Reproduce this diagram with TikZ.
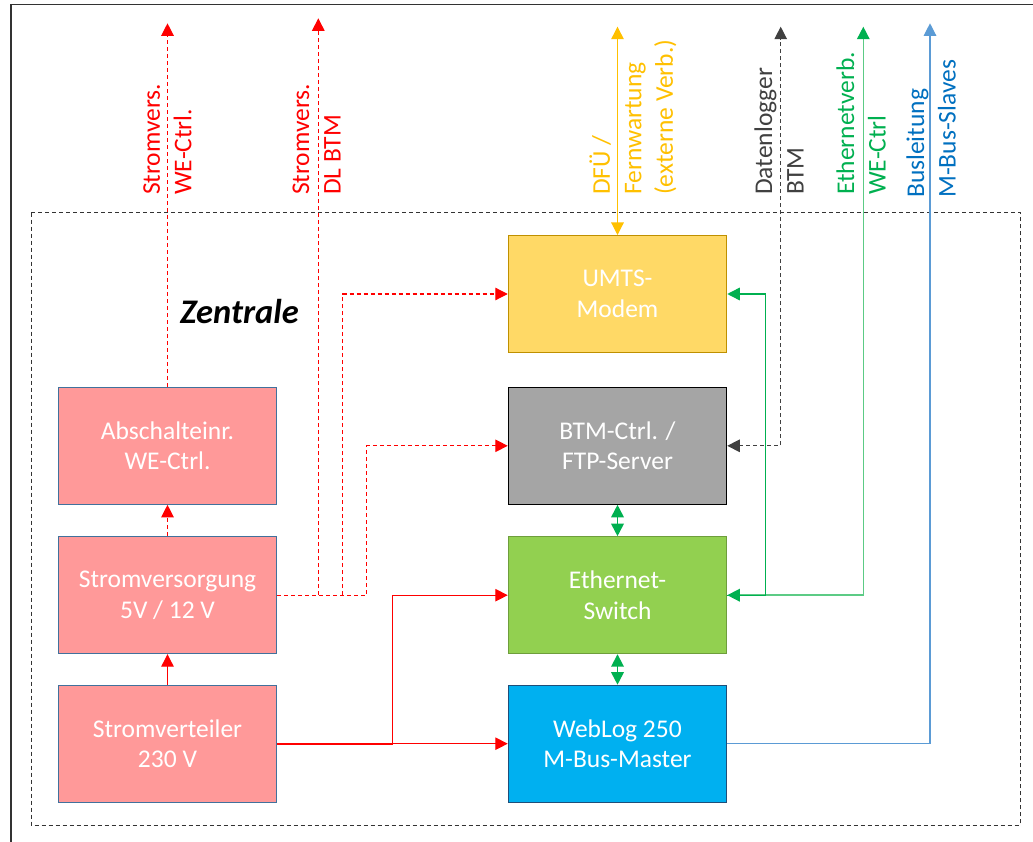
\documentclass[tikz,border=0pt]{standalone}
\usepackage{fontspec}
\setmainfont{Carlito}
\usetikzlibrary{arrows.meta}
\definecolor{cRed}{HTML}{FF0000}
\definecolor{cPink}{HTML}{FF9999}
\definecolor{cPinkB}{HTML}{41719C}
\definecolor{cGold}{HTML}{FFD966}
\definecolor{cGoldB}{HTML}{BF9000}
\definecolor{cGray}{HTML}{A5A5A5}
\definecolor{cLime}{HTML}{92D050}
\definecolor{cLimeB}{HTML}{6E9E3C}
\definecolor{cCyan}{HTML}{00B0F0}
\definecolor{cCyanB}{HTML}{1F4E79}
\definecolor{cOrange}{HTML}{FFC000}
\definecolor{cDark}{HTML}{404040}
\definecolor{cGreen}{HTML}{00B050}
\definecolor{cLGreen}{HTML}{5CCB85}
\definecolor{cBlueL}{HTML}{5B9BD5}
\definecolor{cBlueT}{HTML}{0070C0}
\tikzset{
  unit/.style={draw, line width=1pt, minimum width=218.5pt, minimum height=117pt,
    inner sep=0pt, align=center, text=white, font=\fontsize{25.5}{30.5}\selectfont},
  pinkbox/.style={unit, fill=cPink, draw=cPinkB},
  tip/.style={-{Triangle[length=12.5pt,width=12.5pt]}},
  bitip/.style={{Triangle[length=12.5pt,width=12.5pt]}-{Triangle[length=12.5pt,width=12.5pt]}},
  gtip/.style={{Triangle[length=12.5pt,width=12.5pt,color=cGreen,fill=cGreen]}-{Triangle[length=12.5pt,width=12.5pt,color=cGreen,fill=cGreen]}},
  dashline/.style={dash pattern=on 4pt off 3pt},
  vlabel/.style={rotate=90, anchor=west, align=left, inner sep=0pt,
    font=\fontsize{25.5}{31.5}\selectfont},
}
\begin{document}
\begin{tikzpicture}[x=1pt, y=-1pt, line join=miter]
\useasboundingbox[fill=white] (0,0) rectangle (1033,842);
% outer frame (partial)
\draw[line width=1.6pt, color=black!80] (11,842) -- (11,4.7) -- (1033,4.7);
% container
\draw[line width=1pt, color=black!80, dashline] (31,212.7) rectangle (1020,825);
\node[font=\fontsize{34.5}{40}\selectfont\bfseries\itshape, inner sep=0pt] (zen) at (239.5,312) {Zentrale};

% boxes
\node[pinkbox] (abs) at (167.5,445.8) {Abschalteinr.\\WE-Ctrl.};
\node[pinkbox] (sv) at (167.5,595.2) {Stromversorgung\\5V / 12 V};
\node[pinkbox] (vt) at (167.5,743.7) {Stromverteiler\\230 V};
\node[unit, fill=cGold, draw=cGoldB] (umts) at (617.5,294) {UMTS-\\Modem};
\node[unit, fill=cGray, draw=black] (btm) at (617.5,445.8) {BTM-Ctrl. /\\FTP-Server};
\node[unit, fill=cLime, draw=cLimeB] (eth) at (617.5,595.2) {Ethernet-\\Switch};
\node[unit, fill=cCyan, draw=cCyanB] (web) at (617.5,743.7) {WebLog 250\\M-Bus-Master};

% external end points
\coordinate (tAbs) at (167.5,23.3);
\coordinate (tSV) at (318.3,18.3);
\coordinate (tDfu) at (617.5,26.7);
\coordinate (tDl) at (780.7,26.7);
\coordinate (tEth) at (863.3,26.7);
\coordinate (tBus) at (930,23.3);
% junctions
\coordinate (jA) at (318.3,595.2);
\coordinate (jB) at (342.7,595.2);
\coordinate (jC) at (366.7,595.2);
\coordinate (kB) at (342.7,294);
\coordinate (kC) at (366.7,445.8);
\coordinate (jR) at (392.7,743.7);
\coordinate (jG) at (765.7,595.2);
\coordinate (kD) at (780.7,445.8);
\coordinate (kE) at (863.3,595.2);
\coordinate (kF) at (930,743.7);

% labels
\node[vlabel, text=cRed] (l1) at (167.5,195) {Stromvers.\\WE-Ctrl.};
\node[vlabel, text=cRed] (l2) at (316.5,195) {Stromvers.\\DL BTM};
\node[vlabel, text=cOrange] (l3) at (633,195) {DFÜ /\\Fernwartung\\(externe Verb.)};
\node[vlabel, text=cDark] (l4) at (779,195) {Datenlogger\\BTM};
\node[vlabel, text=cGreen] (l5) at (861,195) {Ethernetverb.\\WE-Ctrl};
\node[vlabel, text=cBlueT] (l6) at (931,198) {Busleitung\\M-Bus-Slaves};

% red power lines
\draw[cRed, line width=1.2pt, tip] (vt.north) -- (sv.south);
\draw[cRed, line width=1.2pt, dashline, tip] (sv.north) -- (abs.south);
\draw[cRed, line width=1.2pt, dashline, tip] (abs.north) -- (tAbs);
\draw[cRed, line width=1.2pt, dashline, tip] (sv.east) -- (jC) -- (kC) -- (btm.west);
\draw[cRed, line width=1.2pt, dashline, tip] (jB) -- (kB) -- (umts.west);
\draw[cRed, line width=1.2pt, dashline, tip] (jA) -- (tSV);
\draw[cRed, line width=2pt] (vt.east) -- (jR);
\draw[cRed, line width=1.2pt, tip] (jR) -- (web.west);
\draw[cRed, line width=1.2pt, tip] (jR) |- (eth.west);

% data lines
\draw[cOrange, line width=1.2pt, bitip] (umts.north) -- (tDfu);
\draw[cDark, line width=1.2pt, dashline, bitip] (btm.east) -- (kD) -- (tDl);
\draw[draw=cLGreen, line width=1.6pt, gtip] (eth.east) -- (kE) -- (tEth);
\draw[cGreen, line width=1.4pt, tip] (eth.east) -- (jG) |- (umts.east);
\draw[cBlueL, line width=1.2pt, tip] (web.east) -- (kF) -- (tBus);
\draw[cGreen, line width=1.8pt, bitip] (btm.south) -- (eth.north);
\draw[cGreen, line width=1.8pt, bitip] (eth.south) -- (web.north);
\end{tikzpicture}
\end{document}
